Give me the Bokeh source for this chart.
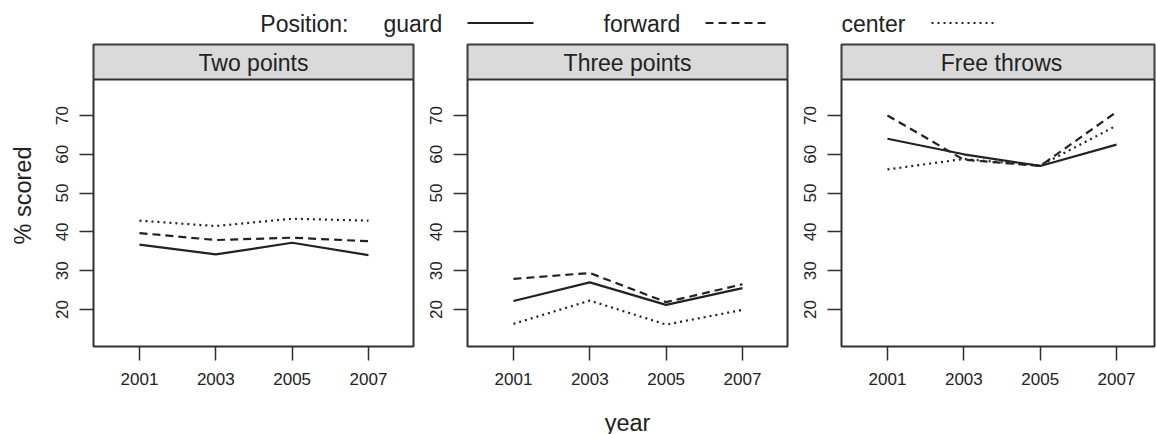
from bokeh.plotting import figure
from bokeh.layouts import column, row
from bokeh.models import Range1d, FixedTicker, BoxAnnotation, Label
from bokeh.core.properties import value
from bokeh.embed import file_html
from bokeh.resources import INLINE

# ---------------- data ----------------
years = [2001, 2003, 2005, 2007]
y_ticks = [20, 30, 40, 50, 60, 70]
positions = ["guard", "forward", "center"]
panel_titles = ["Two points", "Three points", "Free throws"]

two_guard = [36.7, 34.2, 37.2, 34.0]
two_forward = [39.7, 37.9, 38.5, 37.6]
two_center = [42.9, 41.5, 43.4, 42.9]

three_guard = [22.2, 27.0, 21.2, 25.5]
three_forward = [27.9, 29.4, 21.9, 26.5]
three_center = [16.3, 22.3, 16.1, 19.9]

ft_guard = [64.0, 60.0, 57.0, 62.5]
ft_forward = [70.0, 58.6, 57.0, 70.9]
ft_center = [56.1, 58.8, 57.1, 67.4]

series = [
    [two_guard, two_forward, two_center],
    [three_guard, three_forward, three_center],
    [ft_guard, ft_forward, ft_center],
]

# ---------------- style ----------------
FONT = "Liberation Sans"
INK = "#222222"
EDGE = "#303030"
dashes = ["solid", "8 5", "2 4"]
Y0, Y1 = 10.46, 88.3
STRIP_BOTTOM = 79.28
STRIP_TEXT_Y = 83.5
X0 = 1999.795
X1_full = 2008.18
X1_last = 2007.995

def make_panel(i, width, border_left, xend):
    p = figure(width=width, height=362,
               x_range=Range1d(X0, xend), y_range=Range1d(Y0, Y1),
               output_backend="svg", toolbar_location=None,
               min_border_left=border_left, min_border_right=2,
               min_border_top=2, min_border_bottom=58)
    p.grid.visible = False
    p.background_fill_color = "white"
    p.border_fill_color = "white"
    p.outline_line_color = EDGE
    p.outline_line_width = 2
    for ax in (p.xaxis[0], p.yaxis[0]):
        ax.axis_line_color = None
        ax.major_tick_line_color = EDGE
        ax.major_tick_line_width = 1.5
        ax.major_tick_out = 14
        ax.major_tick_in = 0
        ax.minor_tick_line_color = None
        ax.major_label_text_font = FONT
        ax.major_label_text_font_size = "17px"
        ax.major_label_text_color = INK
        ax.axis_label_text_font = FONT
        ax.axis_label_text_font_size = "23.5px"
        ax.axis_label_text_font_style = "normal"
        ax.axis_label_text_color = INK
    p.xaxis.ticker = FixedTicker(ticks=years)
    p.yaxis.ticker = FixedTicker(ticks=y_ticks)
    p.xaxis.major_label_standoff = 12
    p.yaxis.major_label_standoff = 11
    p.yaxis.major_label_orientation = "vertical"

    strip = BoxAnnotation(left=X0, right=xend, bottom=STRIP_BOTTOM, top=Y1,
                          fill_color="#dadada", fill_alpha=1.0,
                          line_color=EDGE, line_alpha=1.0, line_width=2)
    p.add_layout(strip)
    xmid = (X0 + X1_full) / 2
    p.add_layout(Label(x=xmid, y=STRIP_TEXT_Y, text=panel_titles[i],
                       text_align="center", text_baseline="middle",
                       text_font=FONT, text_font_size="23px", text_color=INK))

    for vals, dash in zip(series[i], dashes):
        p.line(years, vals, line_color=INK, line_width=2.2, line_dash=dash)
    return p

p1 = make_panel(0, 415, 93, X1_full)
p1.yaxis.axis_label = "% scored"
p1.yaxis.axis_label_standoff = 18
p2 = make_panel(1, 374, 52, X1_full)
p3 = make_panel(2, 367, 52, X1_last)

# ---------------- legend strip (top) ----------------
leg = figure(width=1156, height=42, x_range=Range1d(0, 1156), y_range=Range1d(0, 42),
             output_backend="svg", toolbar_location=None, min_border=0)
leg.axis.visible = False
leg.grid.visible = False
leg.outline_line_color = None
leg.border_fill_color = "white"

leg.text(x=[348], y=[19], text=["Position:"], text_font=value(FONT),
         text_font_size="23px", text_align="right", text_baseline="middle",
         text_color=INK)
label_x = [383, 603, 841]
line_x = [(467, 533), (705, 767), (931, 994)]
for name, lx, (a, b), dash in zip(positions, label_x, line_x, dashes):
    leg.text(x=[lx], y=[19], text=[name], text_font=value(FONT),
             text_font_size="23px", text_align="left", text_baseline="middle",
             text_color=INK)
    leg.line([a, b], [19.5, 19.5], line_color=INK, line_width=2.2, line_dash=dash)

# ---------------- x-axis title strip (bottom) ----------------
bot = figure(width=1156, height=30, x_range=Range1d(0, 1156), y_range=Range1d(0, 30),
             output_backend="svg", toolbar_location=None, min_border=0)
bot.axis.visible = False
bot.grid.visible = False
bot.outline_line_color = None
bot.border_fill_color = "white"
bot.text(x=[627], y=[12], text=["year"], text_font=value(FONT),
         text_font_size="23.5px", text_align="center", text_baseline="middle",
         text_color=INK)

layout = column(leg, row(p1, p2, p3, spacing=0), bot, spacing=0)
open("out.html", "w").write(file_html(layout, INLINE))
